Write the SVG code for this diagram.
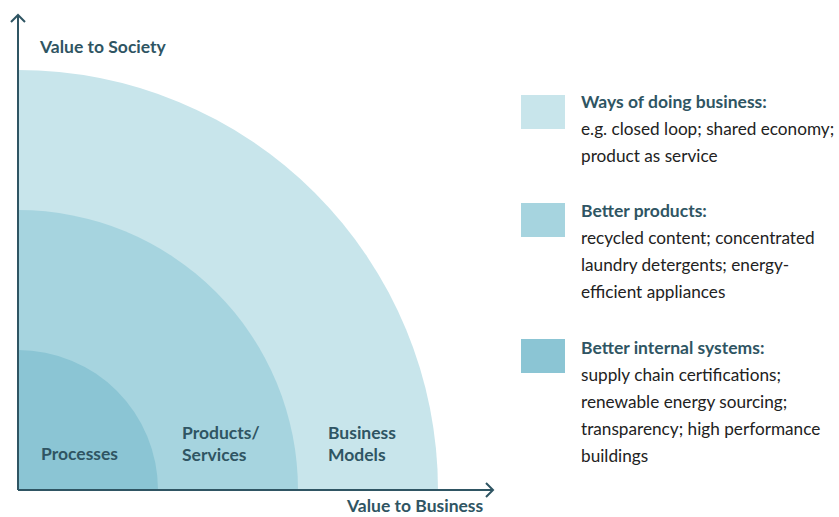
<svg xmlns="http://www.w3.org/2000/svg" width="839" height="517" viewBox="0 0 839 517">
<style>
.t{font-family:Lato,"Open Sans","Liberation Sans",sans-serif;font-weight:700;fill:#2f5563;font-size:17.5px}
.b{font-family:Lato,"Open Sans","Liberation Sans",sans-serif;font-weight:400;fill:#222;font-size:17.2px}
.ax{stroke:#2f5563;stroke-width:2;fill:none}
</style>
<rect width="839" height="517" fill="#fff"/>
<g id="business-models"><path d="M18 490 V70 A420 420 0 0 1 438 490 Z" fill="#c8e5eb"/></g>
<g id="products-services"><path d="M18 490 V210 A280 280 0 0 1 298 490 Z" fill="#a6d4df"/></g>
<g id="processes"><path d="M18 490 V350 A140 140 0 0 1 158 490 Z" fill="#8bc5d4"/></g>
<g id="connectors">
<path class="ax" d="M18 490 V15 M11 22 L18 15 L25 22"/>
<path class="ax" d="M18 490 H493 M486 483 L493 490 L486 497"/>
</g>
<text class="t" x="40" y="53">Value to Society</text>
<text class="t" x="347" y="512">Value to Business</text>
<text class="t" x="41" y="460">Processes</text>
<text class="t" x="182" y="439">Products/</text>
<text class="t" x="182" y="461">Services</text>
<text class="t" x="328" y="439">Business</text>
<text class="t" x="328" y="461">Models</text>
<g id="legend-ways">
<rect x="521" y="95" width="44" height="34" fill="#c8e5eb"/>
<text class="t" x="581" y="108">Ways of doing business:</text>
<text class="b" x="581" y="135">e.g. closed loop; shared economy;</text>
<text class="b" x="581" y="162">product as service</text>
</g>
<g id="legend-products">
<rect x="521" y="203" width="44" height="34" fill="#a6d4df"/>
<text class="t" x="581" y="217">Better products:</text>
<text class="b" x="581" y="244">recycled content; concentrated</text>
<text class="b" x="581" y="271">laundry detergents; energy-</text>
<text class="b" x="581" y="298">efficient appliances</text>
</g>
<g id="legend-internal">
<rect x="521" y="339" width="44" height="34" fill="#8bc5d4"/>
<text class="t" x="581" y="354">Better internal systems:</text>
<text class="b" x="581" y="381">supply chain certifications;</text>
<text class="b" x="581" y="408">renewable energy sourcing;</text>
<text class="b" x="581" y="435">transparency; high performance</text>
<text class="b" x="581" y="462">buildings</text>
</g>
</svg>
